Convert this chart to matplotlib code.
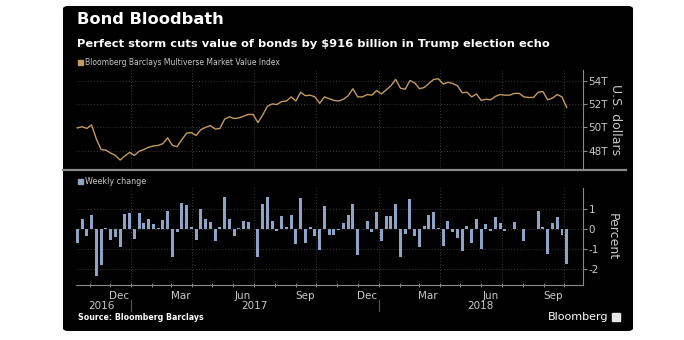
import numpy as np
import pandas as pd
import matplotlib
matplotlib.use("Agg")
import matplotlib.pyplot as plt
import matplotlib.dates as mdates
import matplotlib.transforms as mtransforms
from matplotlib.patches import FancyBboxPatch, Rectangle
from matplotlib.lines import Line2D

# weekly observations, Fridays
weeks = pd.date_range("2016-10-14", periods=104, freq="7D")

# Bloomberg Barclays Multiverse market value, trillions of USD
index_trn = [
    49.95, 50.05, 49.9, 50.2, 49.0, 48.1, 48.05, 47.8, 47.6, 47.2,
    47.55, 47.85, 47.6, 47.95, 48.1, 48.3, 48.4, 48.45, 48.6, 49.1,
    48.45, 48.35, 48.95, 49.5, 49.55, 49.3, 49.8, 50.0, 50.15, 49.85,
    49.9, 50.7, 50.9, 50.75, 50.8, 50.95, 51.1, 51.1, 50.4, 51.05,
    51.8, 52.0, 51.95, 52.2, 52.25, 52.6, 52.25, 53.0, 52.7, 52.75,
    52.6, 52.05, 52.6, 52.45, 52.3, 52.25, 52.4, 52.7, 53.3, 52.6,
    52.6, 52.8, 52.75, 53.15, 52.85, 53.2, 53.55, 54.1, 53.35, 53.25,
    54.0, 53.8, 53.3, 53.4, 53.75, 54.1, 54.15, 53.7, 53.85, 53.75,
    53.55, 52.95, 53.0, 52.6, 52.85, 52.3, 52.4, 52.35, 52.65, 52.8,
    52.75, 52.75, 52.9, 52.9, 52.6, 52.55, 52.55, 53.0, 53.05, 52.35,
    52.5, 52.8, 52.6, 51.7,
]

# weekly change, percent
weekly_pct = [
    -0.7, 0.5, -0.35, 0.68, -2.35, -1.8, 0.03, -0.55, -0.4, -0.9,
    0.75, 0.8, -0.5, 0.8, 0.3, 0.5, 0.25, 0.03, 0.45, 0.9,
    -1.4, -0.15, 1.3, 1.2, 0.08, -0.55, 1.0, 0.5, 0.35, -0.6,
    0.1, 1.6, 0.5, -0.35, 0.05, 0.38, 0.33, -0.02, -1.4, 1.25,
    1.6, 0.4, -0.12, 0.65, 0.12, 0.7, -0.75, 1.55, -0.68, 0.1,
    -0.35, -1.05, 1.15, -0.3, -0.3, -0.05, 0.3, 0.68, 1.25, -1.3,
    0.02, 0.4, -0.15, 0.87, -0.6, 0.65, 0.65, 1.25, -1.4, -0.25,
    1.5, -0.35, -0.9, 0.15, 0.68, 0.85, 0.05, -0.85, 0.38, -0.15,
    -0.45, -1.1, 0.13, -0.7, 0.52, -1.0, 0.25, -0.08, 0.6, 0.3,
    -0.1, 0.02, 0.35, 0.02, -0.6, -0.02, 0.02, 0.92, 0.12, -1.25,
    0.3, 0.58, -0.3, -1.75,
]

top_ticks = [48, 50, 52, 54]
top_labels = ["48T", "50T", "52T", "54T"]
pct_ticks = [-2, -1, 0, 1]
month_labels = {12: "Dec", 3: "Mar", 6: "Jun", 9: "Sep"}
years = [("2016", "2016-11-18"), ("2017", "2017-07-02"), ("2018", "2018-05-31")]
year_breaks = ["2017-01-01", "2018-01-01"]

W, H = 684, 340
LINE_C = "#c49a62"
BAR_C = "#8ea4c6"
TXT = "#c8c8c8"
GRID = "#3c3c3c"
SPINE = "#8a8a8a"

fig = plt.figure(figsize=(W / 100, H / 100), dpi=100, facecolor="white")

panel = FancyBboxPatch((63 / W, 1 - 331 / H), 570 / W, 325 / H,
                       boxstyle="round,pad=0,rounding_size=0.008",
                       transform=fig.transFigure, facecolor="black",
                       edgecolor="none", zorder=-10)
fig.patches.append(panel)

xlim = (pd.Timestamp("2016-10-12"), pd.Timestamp("2018-10-29"))
ax1 = fig.add_axes([76 / W, 1 - 170 / H, 507 / W, 100 / H])
ax2 = fig.add_axes([76 / W, 1 - 285 / H, 507 / W, 97 / H])

quarters = pd.date_range("2016-10-01", "2018-10-01", freq="QS-JAN")
for ax in (ax1, ax2):
    ax.set_facecolor("none")
    ax.set_xlim(*xlim)
    for q in quarters:
        ax.axvline(q, color=GRID, lw=0.7, ls=(0, (1, 2)), zorder=0)
    for s in ("top", "left"):
        ax.spines[s].set_visible(False)
    ax.spines["right"].set_color(SPINE)
    ax.spines["right"].set_linewidth(0.8)
    ax.yaxis.tick_right()
    ax.tick_params(axis="y", colors=SPINE, labelcolor=TXT, labelsize=7.5,
                   length=3, width=0.8, pad=1)
    ax.yaxis.grid(True, color=GRID, lw=0.7, ls=(0, (1, 2)))

# top: market value line
ax1.plot(weeks, index_trn, color=LINE_C, lw=1.0, zorder=3)
ax1.set_ylim(46.35, 54.9)
ax1.set_yticks(top_ticks)
ax1.set_yticklabels(top_labels)
ax1.spines["bottom"].set_visible(False)
ax1.set_xticks([])
ax1.set_ylabel("U.S. dollars", color=TXT, fontsize=9, rotation=270,
               labelpad=10)
ax1.yaxis.set_label_position("right")

# bottom: weekly change bars
ax2.bar(weeks, weekly_pct, width=4.3, color=BAR_C, zorder=3)
ax2.set_ylim(-2.8, 2.05)
ax2.set_yticks(pct_ticks)
ax2.set_yticklabels([str(t) for t in pct_ticks])
ax2.spines["bottom"].set_color(SPINE)
ax2.spines["bottom"].set_linewidth(0.8)
ax2.set_ylabel("Percent", color=TXT, fontsize=9, rotation=270, labelpad=14)
ax2.yaxis.set_label_position("right")

months = pd.date_range("2016-11-01", "2018-10-01", freq="MS")
mids = [m + pd.Timedelta(days=14) for m in months if m.month in month_labels]
ax2.set_xticks(mids)
ax2.set_xticklabels([month_labels[m.month] for m in mids])
ax2.set_xticks(months, minor=True)
ax2.tick_params(axis="x", which="major", length=0, labelsize=7.5,
                labelcolor=TXT, pad=4)
ax2.tick_params(axis="x", which="minor", length=3, direction="inout",
                color=SPINE, width=0.7)

tr = mtransforms.blended_transform_factory(ax2.transData, ax2.transAxes)
for label, pos in years:
    ax2.text(pd.Timestamp(pos), -0.215, label, transform=tr, ha="center",
             va="center", color=TXT, fontsize=7.5)
for b in year_breaks:
    ax2.add_line(Line2D([pd.Timestamp(b)] * 2, [-0.15, -0.27], transform=tr,
                        color="#555555", lw=0.8, clip_on=False))

# separator between panels
fig.add_artist(Line2D([63 / W, 626 / W], [1 - 170 / H] * 2,
                      transform=fig.transFigure, color=SPINE, lw=1.6))

# legends
fig.patches.append(Rectangle((78 / W, 1 - 65 / H), 5 / W, 5 / H,
                             transform=fig.transFigure, color=LINE_C))
fig.text(85 / W, 1 - 62.5 / H, "Bloomberg Barclays Multiverse Market Value Index",
         color=TXT, fontsize=5.5, va="center")
fig.patches.append(Rectangle((78 / W, 1 - 183.5 / H), 5 / W, 5 / H,
                             transform=fig.transFigure, color=BAR_C))
fig.text(85 / W, 1 - 181 / H, "Weekly change", color=TXT, fontsize=5.8,
         va="center")

# titles
fig.text(77 / W, 1 - 20 / H, "Bond Bloodbath", color="white", fontsize=11.7,
         fontweight="bold", va="center")
fig.text(77 / W, 1 - 44 / H,
         "Perfect storm cuts value of bonds by $916 billion in Trump election echo",
         color="white", fontsize=8.25, fontweight="bold", va="center")

# footer
fig.text(78 / W, 1 - 318 / H, "Source: Bloomberg Barclays", color="white",
         fontsize=5.7, fontweight="bold", va="center")
fig.text(608 / W, 1 - 317 / H, "Bloomberg", color="white", fontsize=8,
         ha="right", va="center")
fig.patches.append(Rectangle((612 / W, 1 - 321 / H), 8 / W, 8 / H,
                             transform=fig.transFigure, color="#e6e6e6"))

fig.savefig("out.png", dpi=100, facecolor="white")
